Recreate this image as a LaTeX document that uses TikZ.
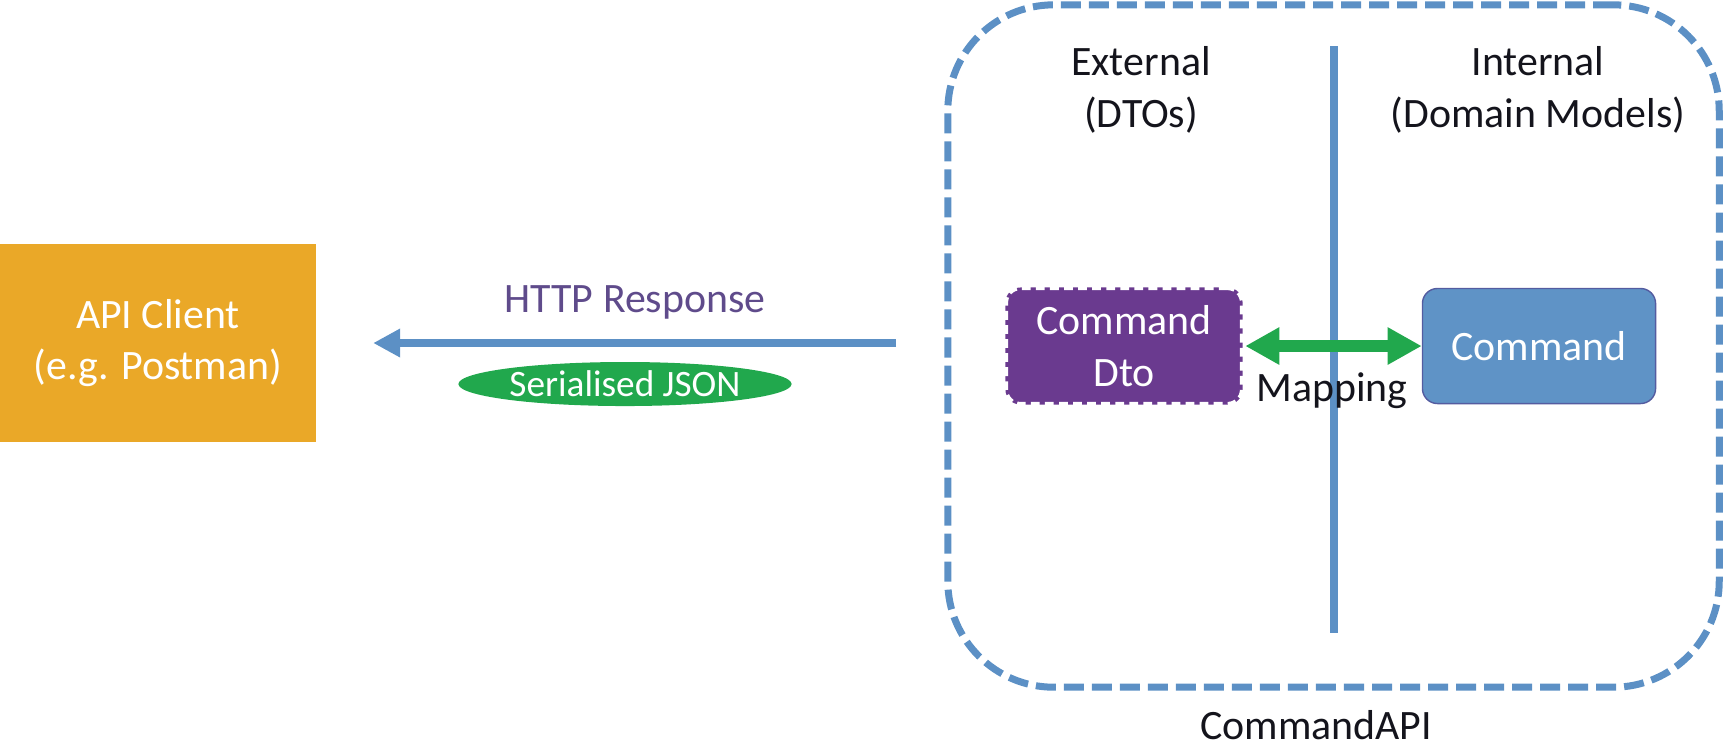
\documentclass[tikz,border=0pt]{standalone}
\usepackage{fontspec}
\setmainfont{Carlito}
\usetikzlibrary{arrows.meta, shapes.geometric}
\definecolor{clientorange}{RGB}{234,168,40}
\definecolor{apiblue}{RGB}{92,144,197}
\definecolor{dtopurple}{RGB}{106,58,143}
\definecolor{cmdblue}{RGB}{95,147,198}
\definecolor{cmdedge}{RGB}{84,92,160}
\definecolor{mapgreen}{RGB}{33,168,77}
\definecolor{httppurple}{RGB}{95,75,139}
\definecolor{labelblack}{RGB}{20,20,28}

\begin{document}
\begin{tikzpicture}
            [x=0.01cm, y=-0.01cm, semithick,
             every node/.style={font=\fontsize{11.9}{14.7}\selectfont, align=center, text=labelblack},
             innerbox/.style={shape=rectangle, rounded corners=0.15cm, text=white},
             bluetip/.style={-{Triangle[length=0.27cm,width=0.27cm]}},
             greentip/.style={{Triangle[length=0.34cm,width=0.35cm]}-{Triangle[length=0.34cm,width=0.35cm]}}]
            \useasboundingbox (0, 0) rectangle (1725, 747);

            \node[shape=rectangle,fill=clientorange,minimum width=3.16cm,minimum height=1.98cm,text=white] (client) at (158, 343) {API Client\\(e.g. Postman)};
            \node[shape=rectangle,draw=apiblue,line width=0.07cm,dash pattern=on 0.2cm off 0.08cm,rounded corners=1.06cm,minimum width=7.71cm,minimum height=6.82cm] (api) at (1333.5, 346) {};
            \node (apiname) at (1316, 725) {CommandAPI};
            \node (external) at (1141, 90) {External\\(DTOs)};
            \node (internal) at (1538, 90) {Internal\\(Domain Models)};
            \coordinate (divtop) at (1334, 46);
            \coordinate (divbot) at (1334, 633);
            \node[innerbox,fill=dtopurple,draw=white,line width=1.5pt,dash pattern=on 2.5pt off 1.5pt,minimum width=2.37cm,minimum height=1.17cm] (dto) at (1124, 346) {Command\\Dto};
            \node[innerbox,fill=cmdblue,draw=cmdedge,thin,minimum width=2.33cm,minimum height=1.15cm] (cmd) at (1539, 346) {Command};

            \coordinate (respstart) at (896, 343);
            \node[text=httppurple] (response) at (635, 302) {HTTP Response};
            \node[shape=ellipse,fill=mapgreen,text=white,minimum width=3.33cm,minimum height=0.44cm,inner sep=0pt,font=\fontsize{10.6}{12}\selectfont] (json) at (625, 384) {Serialised JSON};

            \draw [apiblue, line width=0.08cm] (divtop) -- (divbot);
            \draw [bluetip, apiblue, line width=0.08cm, shorten >=0.56cm] (respstart) -- (client);
            \draw [greentip, mapgreen, line width=0.12cm] (dto) -- (cmd);
            \node (mapping) at (1332, 391) {Mapping};
        \end{tikzpicture}
\end{document}
